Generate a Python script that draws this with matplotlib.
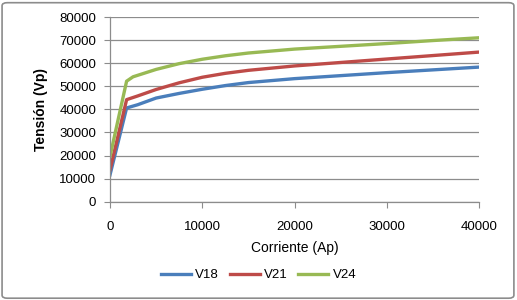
import matplotlib.pyplot as plt
from matplotlib.patches import FancyBboxPatch

plt.rcParams['font.family'] = ['Liberation Sans', 'DejaVu Sans']

# corriente (Ap) and tension (Vp)
x_v18 = [0, 1800, 3000, 5000, 7500, 10000, 12500, 15000, 20000, 25000, 30000, 35000, 40000]
y_v18 = [11600, 40600, 42000, 44900, 46900, 48700, 50300, 51600, 53300, 54600, 55900, 57100, 58300]

x_v21 = [0, 1800, 3000, 5000, 7500, 10000, 12500, 15000, 20000, 25000, 30000, 35000, 40000]
y_v21 = [13800, 44200, 45800, 48600, 51500, 53900, 55600, 56900, 58800, 60300, 61800, 63300, 64800]

x_v24 = [0, 1800, 2500, 5000, 7500, 10000, 12500, 15000, 20000, 25000, 30000, 35000, 40000]
y_v24 = [19600, 52200, 54100, 57300, 59800, 61700, 63200, 64400, 66100, 67300, 68500, 69800, 71000]

series = [('V18', x_v18, y_v18, '#4A7EBB'),
          ('V21', x_v21, y_v21, '#BE4B48'),
          ('V24', x_v24, y_v24, '#98B954')]

fig = plt.figure(figsize=(5.17, 3.0), dpi=100)
ax = fig.add_axes([110 / 517, 1 - 201.7 / 300, 369 / 517, 184.7 / 300])

for name, xs, ys, c in series:
    ax.plot(xs, ys, color=c, lw=2.4, label=name, solid_joinstyle='round')

ax.set_xlim(0, 40000)
ax.set_ylim(0, 80000)
ax.set_xticks(range(0, 40001, 10000))
ax.set_yticks(range(0, 80001, 10000))
ax.grid(axis='y', color='#8c8c8c', lw=0.9)
ax.set_axisbelow(True)
for s in ['top', 'right']:
    ax.spines[s].set_visible(False)
for s in ['left', 'bottom']:
    ax.spines[s].set_color('#8c8c8c')
    ax.spines[s].set_linewidth(0.9)
ax.tick_params(axis='x', direction='out', length=4, color='#8c8c8c', pad=10, labelsize=9.5)
ax.tick_params(axis='y', direction='out', length=4, color='#8c8c8c', pad=6, labelsize=9.5)

ax.set_xlabel('Corriente (Ap)', fontsize=10, labelpad=6)
ax.set_ylabel('Tensión (Vp)', fontsize=10, fontweight='bold', labelpad=8)

ax.legend(loc='center', bbox_to_anchor=(0.5, 1 - 275 / 300), bbox_transform=fig.transFigure,
          ncol=3, frameon=False, fontsize=9.5, handlelength=2.3, handletextpad=0.3,
          columnspacing=0.8)

border = FancyBboxPatch((0.004, 0.006), 0.99, 0.985, boxstyle='round,pad=0,rounding_size=0.01',
                        transform=fig.transFigure, fill=False, ec='#8c8c8c', lw=1.2)
fig.patches.append(border)

fig.savefig('out.png', dpi=100)
